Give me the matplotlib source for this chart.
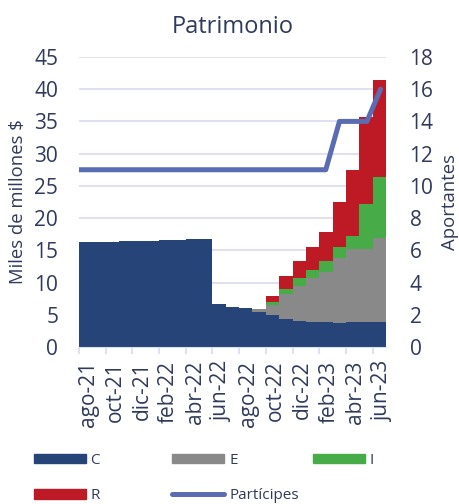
import numpy as np
import matplotlib.pyplot as plt
import matplotlib.transforms as mtrans
from matplotlib.lines import Line2D
from matplotlib.patches import Patch

plt.rcParams['font.family'] = ['Open Sans', 'DejaVu Sans']
txt = '#2f3a5c'

# Datos mensuales (ago-21 a jun-23)
meses = ['ago-21', 'sep-21', 'oct-21', 'nov-21', 'dic-21', 'ene-22', 'feb-22',
         'mar-22', 'abr-22', 'may-22', 'jun-22', 'jul-22', 'ago-22', 'sep-22',
         'oct-22', 'nov-22', 'dic-22', 'ene-23', 'feb-23', 'mar-23', 'abr-23',
         'may-23', 'jun-23']
C = [16.25, 16.3, 16.35, 16.4, 16.45, 16.5, 16.55, 16.65, 16.8, 16.75,
     6.65, 6.15, 6.1, 5.45, 5.0, 4.4, 4.1, 3.85, 3.85, 3.75, 3.85, 3.85, 3.85]
E = [0]*13 + [0.5, 1.45, 3.8, 5.4, 6.8, 7.75, 10.0, 11.3, 11.3, 13.0]
I = [0]*14 + [0.6, 0.8, 1.15, 1.25, 1.75, 1.8, 2.0, 7.05, 9.5]
R = [0]*14 + [0.8, 2.05, 2.7, 3.6, 4.55, 6.9, 10.25, 13.55, 15.05]
participes = [11]*19 + [14, 14, 14, 16]

colores = {'C': '#264478', 'E': '#898989', 'I': '#47ac47', 'R': '#bd1a25'}
col_linea = '#5a6cb2'

fig = plt.figure(figsize=(4.6, 5.04), dpi=100)
ax = fig.add_axes([0.1717, 0.3115, 0.6673, 0.5755])

x = np.arange(len(meses))
base = np.zeros(len(meses))
for nombre, vals in [('C', C), ('E', E), ('I', I), ('R', R)]:
    ax.bar(x, vals, width=1.0, bottom=base, color=colores[nombre], linewidth=0, zorder=2)
    base = base + np.array(vals)

ax.set_ylim(0, 45)
ax.set_yticks(range(0, 50, 5))
ax.set_xlim(-0.5, len(meses) - 0.5)
ax.grid(axis='y', color='#d9dcee', linewidth=1.2, zorder=0)
ax.set_axisbelow(True)

# ticks en los bordes, etiquetas centradas en las barras
ax.set_xticks(np.arange(-0.5, len(meses) - 1, 2))
ax.set_xticklabels([])
ax.set_xticks(x[::2], minor=True)
ax.set_xticklabels(meses[::2], minor=True, rotation=90)
ax.tick_params(axis='x', which='major', length=5, color='#d9dcee', width=1.2)
ax.tick_params(axis='x', which='minor', length=0, pad=10, labelsize=15, labelcolor=txt)
ax.tick_params(axis='y', length=0, labelsize=15, labelcolor=txt, pad=15)
desplaza = mtrans.ScaledTranslation(3 / 100, 0, fig.dpi_scale_trans)
for lab in ax.get_xticklabels(minor=True):
    lab.set_transform(lab.get_transform() + desplaza)
for s in ['top', 'right', 'left']:
    ax.spines[s].set_visible(False)
ax.spines['bottom'].set_color('#d9dcee')

ax.set_ylabel('Miles de millones $', fontsize=13.3, color=txt)
ax.yaxis.set_label_coords(-0.168, 0.5)
ax.set_title('Patrimonio', fontsize=17, color=txt, pad=17)

ax2 = ax.twinx()
xl = np.linspace(-0.5, 22.1, len(meses))
ax2.plot(xl, participes, color=col_linea, linewidth=3.6, solid_capstyle='round', zorder=3)
ax2.set_ylim(0, 18)
ax2.set_yticks(range(0, 20, 2))
ax2.tick_params(axis='y', length=0, labelsize=15, labelcolor=txt, pad=17)
for s in ['top', 'right', 'left', 'bottom']:
    ax2.spines[s].set_visible(False)
ax2.set_ylabel('Aportantes', fontsize=13.3, color=txt)
ax2.yaxis.set_label_coords(1.178, 0.5)

# leyenda en rejilla
entradas = [
    (Patch(color=colores['C']), 'C', 0.073, 0.087),
    (Patch(color=colores['E']), 'E', 0.375, 0.087),
    (Patch(color=colores['I']), 'I', 0.68, 0.087),
    (Patch(color=colores['R']), 'R', 0.073, 0.016),
    (Line2D([], [], color=col_linea, linewidth=3.6, solid_capstyle='round'), 'Partícipes', 0.375, 0.016),
]
for h, lab, lx, ly in entradas:
    fig.legend([h], [lab], loc='center left', bbox_to_anchor=(lx, ly), frameon=False,
               fontsize=11, labelcolor=txt, handlelength=3.4, handleheight=0.55,
               handletextpad=0.3, borderpad=0, borderaxespad=0)

fig.savefig('out.png', dpi=100)
